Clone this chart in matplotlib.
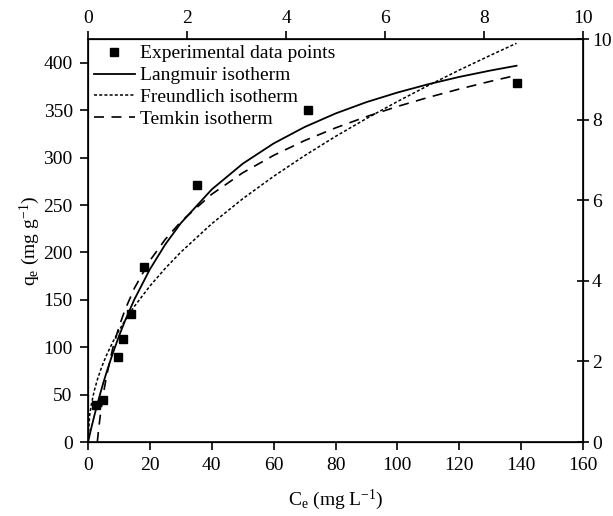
import matplotlib
matplotlib.use("Agg")
import matplotlib.pyplot as plt

plt.rcParams["font.family"] = ["Liberation Serif", "DejaVu Serif"]
plt.rcParams["mathtext.fontset"] = "custom"
plt.rcParams["mathtext.rm"] = "Liberation Serif"
plt.rcParams["mathtext.it"] = "Liberation Serif:italic"

# experimental points
ce_exp = [2.6, 4.9, 9.6, 11.2, 13.8, 18.0, 35.2, 71.0, 138.7]
qe_exp = [39, 44, 90, 109, 135, 185, 271, 350, 379]

# Langmuir curve
c_lang = [0, 1, 2, 3, 4, 5, 6, 8, 10, 12, 15, 20, 25, 30, 40, 50, 60, 70, 80, 90, 100, 110, 120, 130, 138.5]
q_lang = [0, 14.0, 27.3, 39.8, 51.7, 63.0, 73.7, 93.6, 111.7, 128.3, 150.6, 182.3, 208.7, 231.0, 266.6,
          293.7, 315.1, 332.4, 346.7, 358.7, 368.8, 377.6, 385.3, 392.0, 397.1]

# Freundlich curve
c_freu = [0, 0.5, 1, 2, 3, 4, 5, 6, 8, 10, 12, 15, 20, 25, 30, 40, 50, 60, 70, 80, 90, 100, 110, 120, 130, 138.5]
q_freu = [0, 27.5, 38.5, 53.9, 65.6, 75.4, 84.0, 91.8, 105.5, 117.6, 128.5, 143.2, 164.6, 183.4, 200.4,
          230.4, 256.7, 280.4, 302.2, 322.5, 341.4, 359.3, 376.3, 392.5, 408.0, 420.8]

# Temkin curve
c_temk = [3.0, 3.5, 4, 5, 6, 8, 10, 12, 15, 20, 25, 30, 40, 50, 60, 70, 80, 90, 100, 110, 120, 130, 138.5]
q_temk = [0, 15.5, 29.0, 51.5, 69.9, 99.0, 121.5, 139.9, 162.4, 191.5, 214.0, 232.5, 261.5, 284.1,
          302.5, 318.1, 331.5, 343.4, 354.1, 363.7, 372.5, 380.6, 387.0]

fs = 14

fig = plt.figure(figsize=(6.13, 5.16), dpi=100)
ax = fig.add_axes([0.1436, 0.1434, 0.8075, 0.781])

ax.plot(ce_exp, qe_exp, "s", color="black", ms=6, label="Experimental data points")
ax.plot(c_lang, q_lang, "-", color="black", lw=1.3, label="Langmuir isotherm")
ax.plot(c_freu, q_freu, color="black", lw=1.1, dashes=(2, 1.4), label="Freundlich isotherm")
ax.plot(c_temk, q_temk, color="black", lw=1.2, dashes=(6, 4.5), label="Temkin isotherm")

ax.set_xlim(0, 160)
ax.set_ylim(0, 425.3)
ax.set_xticks(range(0, 161, 20))
ax.set_yticks(range(0, 401, 50))
ax.tick_params(direction="out", length=6, width=1.2, labelsize=fs, pad=5)
for s in ax.spines.values():
    s.set_linewidth(1.2)

ax.set_xlabel(r"C$_\mathrm{e}$ (mg L$^{-1}$)", fontsize=fs, labelpad=10)
ax.set_ylabel(r"q$_\mathrm{e}$ (mg g$^{-1}$)", fontsize=fs, labelpad=1)

axt = ax.twiny()
axt.set_xlim(0, 10)
axt.set_xticks(range(0, 11, 2))
axt.tick_params(direction="out", length=6, width=1.2, labelsize=fs, pad=3)

axr = ax.twinx()
axr.set_ylim(0, 10)
axr.set_yticks(range(0, 11, 2))
axr.tick_params(direction="inout", length=9, width=1.2, labelsize=fs, pad=2)

ax.legend(loc="upper left", frameon=False, fontsize=fs, handlelength=2.1,
          handletextpad=0.25, labelspacing=0.22, borderaxespad=0.1, borderpad=0.2)

fig.savefig("out.png", dpi=100)
